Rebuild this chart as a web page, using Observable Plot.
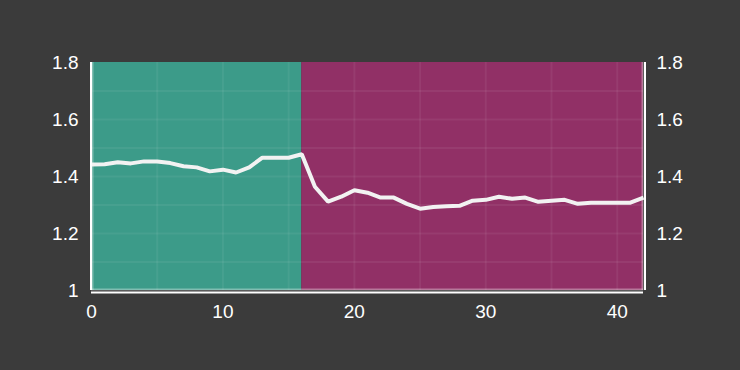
<!DOCTYPE html>
<html>
<head>
<meta charset="utf-8">
<script src="https://cdn.jsdelivr.net/npm/d3@7"></script>
<script src="https://cdn.jsdelivr.net/npm/@observablehq/plot@0.6"></script>
<style>
  html, body { margin: 0; padding: 0; background: #3b3b3b; }
  #chart { width: 740px; height: 370px; }
  svg { display: block; }
</style>
</head>
<body>
<div id="chart"></div>
<script>
// Data
const steps = [0,1,2,3,4,5,6,7,8,9,10,11,12,13,14,15,16,17,18,19,20,21,22,23,24,25,26,27,28,29,30,31,32,33,34,35,36,37,38,39,40,41,42];
const values = [1.442,1.443,1.450,1.446,1.453,1.453,1.447,1.436,1.432,1.418,1.424,1.414,1.432,1.466,1.466,1.466,1.478,1.364,1.312,1.329,1.352,1.343,1.326,1.326,1.304,1.287,1.293,1.296,1.297,1.315,1.318,1.329,1.322,1.326,1.311,1.315,1.318,1.304,1.308,1.308,1.308,1.308,1.326];

const regionStart = [0, 16];
const regionEnd = [16, 42];
const regionColor = ["#3c9b89", "#913066"];

const xTicks = [0, 10, 20, 30, 40];
const xGrid = [5, 10, 15, 20, 25, 30, 35, 40];
const yTicks = [1, 1.2, 1.4, 1.6, 1.8];
const yGrid = [1.1, 1.2, 1.3, 1.4, 1.5, 1.6, 1.7];

const points = steps.map((s, i) => ({x: s, y: values[i]}));
const regions = regionStart.map((s, i) => ({x1: s, x2: regionEnd[i], fill: regionColor[i]}));

const fmt = d3.format("");

const chart = Plot.plot({
  width: 740,
  height: 370,
  marginLeft: 91,
  marginRight: 97,
  marginTop: 62,
  marginBottom: 80,
  style: {background: "#3b3b3b", color: "#ffffff", fontFamily: "Liberation Sans, Arial, sans-serif", fontSize: "19px"},
  x: {domain: [0, 42], label: null},
  y: {domain: [1, 1.8], label: null},
  marks: [
    Plot.rect(regions, {x1: "x1", x2: "x2", y1: 1, y2: 1.8, fill: d => d.fill}),
    Plot.ruleX(xGrid, {stroke: "#ffffff", strokeOpacity: 0.06, strokeWidth: 2}),
    Plot.ruleY(yGrid, {stroke: "#ffffff", strokeOpacity: 0.06, strokeWidth: 2}),
    // light inner edge strips
    Plot.ruleX([0], {stroke: "#ffffff", strokeOpacity: 0.35, strokeWidth: 2, dx: 1}),
    Plot.ruleX([42], {stroke: "#ffffff", strokeOpacity: 0.35, strokeWidth: 2, dx: -1}),
    Plot.ruleY([1], {stroke: "#ffffff", strokeOpacity: 0.35, strokeWidth: 2, dy: -1}),
    Plot.line(points, {x: "x", y: "y", stroke: "#f2f2f2", strokeWidth: 4, strokeLinejoin: "miter", strokeLinecap: "butt"}),
    // white frame lines
    Plot.ruleX([0], {stroke: "#ffffff", strokeWidth: 2, dx: -0.5}),
    Plot.ruleX([42], {stroke: "#ffffff", strokeWidth: 2, dx: 1.5}),
    Plot.ruleY([1], {stroke: "#ffffff", strokeWidth: 2, dy: 2}),
    Plot.axisX(xTicks, {tickSize: 0, tickPadding: 14, tickFormat: fmt, fill: "#ffffff", fontSize: 19, label: null}),
    Plot.axisY(yTicks, {anchor: "left", tickSize: 0, tickPadding: 13, tickFormat: fmt, fill: "#ffffff", fontSize: 19, label: null}),
    Plot.axisY(yTicks, {anchor: "right", tickSize: 0, tickPadding: 13, tickFormat: fmt, fill: "#ffffff", fontSize: 19, label: null})
  ]
});
document.getElementById("chart").append(chart);
</script>
</body>
</html>
